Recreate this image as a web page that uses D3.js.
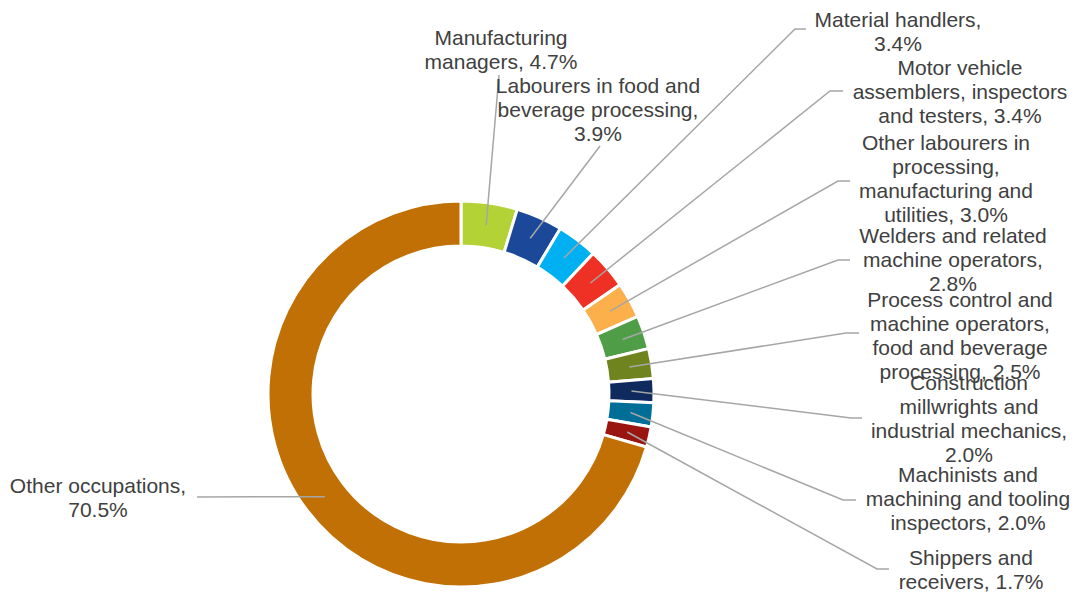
<!DOCTYPE html>
<html>
<head>
<meta charset="utf-8">
<script src="https://cdn.jsdelivr.net/npm/d3@7"></script>
<style>
  body { margin: 0; background: #fff; }
  text { font-family: "Liberation Sans", Arial, sans-serif; font-size: 21px; fill: #404040; }
</style>
</head>
<body>
<svg id="chart" width="1079" height="592"></svg>
<script>
var width = 1079, height = 592

// slices, clockwise from 12 o'clock
var occupations = [
  "Manufacturing managers",
  "Labourers in food and beverage processing",
  "Material handlers",
  "Motor vehicle assemblers, inspectors and testers",
  "Other labourers in processing, manufacturing and utilities",
  "Welders and related machine operators",
  "Process control and machine operators, food and beverage processing",
  "Construction millwrights and industrial mechanics",
  "Machinists and machining and tooling inspectors",
  "Shippers and receivers",
  "Other occupations"
]
var shares = [4.7, 3.9, 3.4, 3.4, 3.0, 2.8, 2.5, 2.0, 2.0, 1.7, 70.5]

var colors = ["#b2d235", "#1b4899", "#00b0f0", "#ee3124", "#fbb04c", "#4f9e47",
              "#6f841e", "#0f2a5c", "#006e96", "#9b1510", "#c07004"]

// label text as it wraps in the original
var labelLines = [
  ["Manufacturing", "managers, 4.7%"],
  ["Labourers in food and", "beverage processing,", "3.9%"],
  ["Material handlers,", "3.4%"],
  ["Motor vehicle", "assemblers, inspectors", "and testers, 3.4%"],
  ["Other labourers in", "processing,", "manufacturing and", "utilities, 3.0%"],
  ["Welders and related", "machine operators,", "2.8%"],
  ["Process control and", "machine operators,", "food and beverage", "processing, 2.5%"],
  ["Construction", "millwrights and", "industrial mechanics,", "2.0%"],
  ["Machinists and", "machining and tooling", "inspectors, 2.0%"],
  ["Shippers and", "receivers, 1.7%"],
  ["Other occupations,", "70.5%"]
]

// label layout: text centre x, first baseline y, leader elbow and end
var labelX = [501, 598, 898, 960, 946, 953, 960, 969, 968, 971, 98]
var labelY = [45, 93, 27, 75, 150, 243, 307, 390, 482, 565, 493]
var elbow = [[499, 75], [600, 146], [795, 29], [830, 91], [838, 181], [838, 260],
             [846, 333], [851, 418], [843, 500], [877, 569], [197, 497]]
var leaderEnd = [499, 600, 806, 843, 850, 850, 859, 862, 856, 889, 197]

var cx = 461, cy = 394, outerR = 193, innerR = 148
var lineH = 24

var svg = d3.select('#chart')

var pie = d3.pie().sort(null).value(d => d)
var arcs = pie(shares)

var arc = d3.arc().innerRadius(innerR).outerRadius(outerR)
var midArc = d3.arc().innerRadius((innerR + outerR) / 2).outerRadius((innerR + outerR) / 2)

var g = svg.append('g').attr('transform', 'translate(' + cx + ',' + cy + ')')

g.selectAll('path.slice')
  .data(arcs)
  .enter().append('path')
  .attr('class', 'slice')
  .attr('d', arc)
  .attr('fill', (d, i) => colors[i])
  .attr('stroke', '#fff')
  .attr('stroke-width', 3)
  .attr('stroke-linejoin', 'miter')

// leader lines
svg.append('g').selectAll('polyline')
  .data(arcs)
  .enter().append('polyline')
  .attr('points', (d, i) => {
    var c = midArc.centroid(d)
    var p0 = [cx + c[0], cy + c[1]]
    var e = elbow[i]
    return [p0, e, [leaderEnd[i], e[1]]].map(p => p.join(',')).join(' ')
  })
  .attr('fill', 'none')
  .attr('stroke', '#a6a6a6')
  .attr('stroke-width', 1.5)

// labels
var labels = svg.append('g').selectAll('text')
  .data(labelLines)
  .enter().append('text')
  .attr('text-anchor', 'middle')
  .attr('x', (d, i) => labelX[i])
  .attr('y', (d, i) => labelY[i])

labels.each(function(lines, i) {
  d3.select(this).selectAll('tspan')
    .data(lines)
    .enter().append('tspan')
    .attr('x', labelX[i])
    .attr('y', (l, j) => labelY[i] + j * lineH)
    .text(l => l)
})
</script>
</body>
</html>
